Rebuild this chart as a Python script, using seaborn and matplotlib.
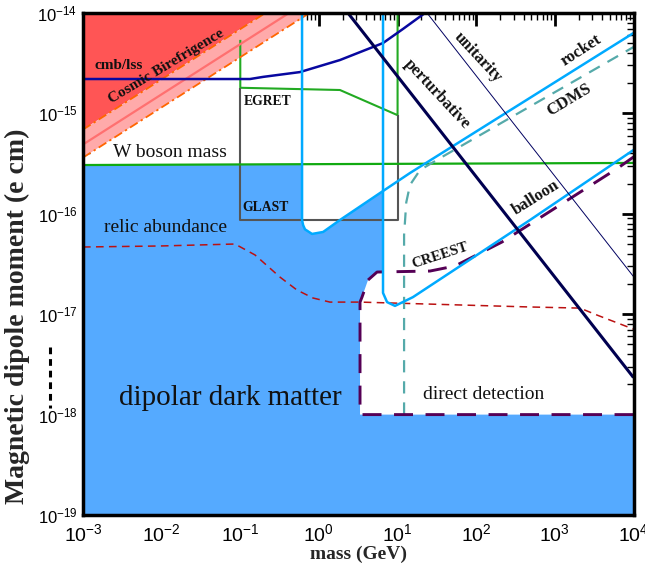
import numpy as np
import pandas as pd
import seaborn as sns
import matplotlib
matplotlib.use("Agg")
import matplotlib.pyplot as plt
from matplotlib.ticker import LogLocator, LogFormatterSciNotation, NullFormatter
from matplotlib.lines import Line2D

# ---------------- data (mass in GeV, dipole moment in e cm) ----------------
cmb_upper_m = [1e-3, 0.209]
cmb_upper_d = [6.9e-16, 1e-14]
cmb_center_m = [1e-3, 0.417]
cmb_center_d = [4.9e-16, 1e-14]
cmb_lower_m = [1e-3, 0.759]
cmb_lower_d = [3.63e-16, 1e-14]

navy_m = [1e-3, 0.133, 0.195, 0.574, 1.85, 6.53, 11.7, 22.3]
navy_d = [2.20e-15, 2.20e-15, 2.31e-15, 2.58e-15, 3.40e-15, 5.02e-15, 6.93e-15, 1e-14]

egret_m = [0.1, 0.1, 1.85, 10, 10]
egret_d = [5.4e-15, 1.8e-15, 1.71e-15, 9.6e-16, 1e-14]

glast_m = [0.1, 0.1, 10, 10]
glast_d = [1.8e-15, 8.67e-17, 8.67e-17, 9.6e-16]

wboson_m = [1e-3, 1e4]
wboson_d = [3.06e-16, 3.21e-16]

rocket_m = [0.610, 0.610, 0.630, 0.665, 0.817, 1.13, 1.85, 5.98, 14.4, 1e4]
rocket_d = [1e-14, 8.67e-17, 7.7e-17, 7.0e-17, 6.30e-17, 6.59e-17, 8.67e-17, 1.61e-16, 2.55e-16, 6.32e-15]

balloon_m = [6.53, 6.53, 7.35, 9.27, 15.7, 483, 1e4]
balloon_d = [1e-14, 1.63e-17, 1.32e-17, 1.21e-17, 1.48e-17, 8.67e-17, 4.32e-16]

cdms_m = [12.1, 12.1, 12.9, 14.4, 19.3, 36.7, 1e4]
cdms_d = [1e-18, 6.15e-17, 1.3e-16, 1.94e-16, 2.73e-16, 3.68e-16, 4.58e-15]

creest_m = [1e4, 3.33, 3.33, 3.53, 4.21, 5.48, 25.8, 53.7, 213, 6350, 1e4]
creest_d = [1e-18, 1e-18, 1.32e-17, 1.48e-17, 2.19e-17, 2.63e-17, 2.69e-17, 3.02e-17, 5.24e-17, 2.86e-16, 3.68e-16]

relic_m = [1e-3, 0.0096, 0.0857, 0.154, 0.320, 0.526, 0.841, 1.38, 3.33, 483, 2090, 3440, 1e4]
relic_d = [4.67e-17, 4.78e-17, 5.0e-17, 3.89e-17, 2.34e-17, 1.74e-17, 1.45e-17, 1.32e-17,
           1.32e-17, 1.18e-17, 1.15e-17, 9.8e-18, 7.1e-18]

perturbative_m = [2.34, 1e4]
perturbative_d = [1e-14, 2.34e-18]
unitarity_m = [23.7, 1e4]
unitarity_d = [1e-14, 2.37e-17]

ddm_m = [1e-3, 1e4, 1e4, 3.33, 3.33, 3.53, 4.21, 5.48, 6.53, 6.53, 5.98, 1.85, 1.13,
         0.817, 0.665, 0.630, 0.610, 0.610, 1e-3]
ddm_d = [1e-19, 1e-19, 1e-18, 1e-18, 1.32e-17, 1.48e-17, 2.19e-17, 2.63e-17, 2.63e-17,
         1.69e-16, 1.61e-16, 8.67e-17, 6.59e-17, 6.30e-17, 7.0e-17, 7.7e-17, 8.67e-17,
         3.06e-16, 3.06e-16]

x_ticks = [1e-3, 1e-2, 1e-1, 1e0, 1e1, 1e2, 1e3, 1e4]
y_ticks = [1e-19, 1e-18, 1e-17, 1e-16, 1e-15, 1e-14]

# ---------------- figure ----------------
sns.set_style("ticks")
plt.rcParams["font.family"] = ["Liberation Serif", "DejaVu Serif"]
plt.rcParams["mathtext.fontset"] = "custom"
plt.rcParams["mathtext.rm"] = "Liberation Sans"

fig = plt.figure(figsize=(6.45, 5.73), dpi=100)
ax = fig.add_axes([83 / 645, 58 / 573, 550.5 / 645, 502 / 573])
ax.set_xscale("log")
ax.set_yscale("log")

# filled regions
ax.fill(ddm_m, ddm_d, color="#55aaff", lw=0, zorder=1)
ax.fill([cmb_upper_m[0], cmb_upper_m[0], cmb_upper_m[1]],
        [1e-14, cmb_upper_d[0], cmb_upper_d[1]], color="#ff5555", lw=0, zorder=1)
ax.fill([cmb_upper_m[0], cmb_upper_m[1], cmb_lower_m[1], cmb_lower_m[0]],
        [cmb_upper_d[0], cmb_upper_d[1], cmb_lower_d[1], cmb_lower_d[0]],
        color="#ffaaaa", lw=0, zorder=1)


def line(xs, ys, color, lw, ls="-", z=3):
    df = pd.DataFrame({"m": xs, "d": ys})
    sns.lineplot(data=df, x="m", y="d", ax=ax, color=color, linewidth=lw,
                 sort=False, estimator=None, zorder=z)
    ln = ax.lines[-1]
    ln.set_linestyle(ls)
    ln.set_solid_capstyle("butt")
    ln.set_dash_capstyle("butt")
    return ln


line(egret_m, egret_d, "#22aa22", 1.5, z=2)
line(glast_m, glast_d, "#555555", 1.5, z=2)
line(cmb_center_m, cmb_center_d, "#ff7070", 1.6)
line(cmb_upper_m, cmb_upper_d, "#ff6600", 1.3, ls=(0, (5, 2, 1.3, 2)))
line(cmb_lower_m, cmb_lower_d, "#ff6600", 1.3, ls=(0, (5, 2, 1.3, 2)))
line(navy_m, navy_d, "#0808a0", 1.8)
line(wboson_m, wboson_d, "#11aa11", 1.6)
line(relic_m, relic_d, "#bb1111", 1.1, ls=(0, (5, 3.5)))
line(cdms_m, cdms_d, "#55aaaa", 1.6, ls=(0, (5.5, 4)))
line(creest_m, creest_d, "#550055", 2.1, ls=(0, (6.5, 4.3)))
line(rocket_m, rocket_d, "#00aaff", 1.8, z=4)
line(balloon_m, balloon_d, "#00aaff", 1.8, z=4)
line(perturbative_m, perturbative_d, "#000050", 2.2, z=4)
line(unitarity_m, unitarity_d, "#000060", 0.7, z=4)

ax.set_xlim(1e-3, 1e4)
ax.set_ylim(1e-19, 1e-14)
ax.set_xlabel("mass (GeV)", fontsize=14, fontweight="bold")
ax.set_ylabel("Magnetic dipole moment (e cm)", fontsize=20, fontweight="bold")
ax.xaxis.set_label_coords(0.5, -0.062)
ax.yaxis.set_label_coords(-0.097, 0.396)

ax.xaxis.set_major_locator(LogLocator(base=10, numticks=100))
ax.yaxis.set_major_locator(LogLocator(base=10, numticks=100))
ax.xaxis.set_minor_locator(LogLocator(base=10, subs=np.arange(2, 10), numticks=100))
ax.yaxis.set_minor_locator(LogLocator(base=10, subs=np.arange(2, 10), numticks=100))
ax.xaxis.set_major_formatter(LogFormatterSciNotation())
ax.yaxis.set_major_formatter(LogFormatterSciNotation())
ax.xaxis.set_minor_formatter(NullFormatter())
ax.yaxis.set_minor_formatter(NullFormatter())
ax.set_xticks(x_ticks)
ax.set_yticks(y_ticks)
ax.tick_params(which="both", direction="in", top=True, right=True, colors="black")
ax.tick_params(which="major", length=9, width=2)
ax.tick_params(which="minor", length=5, width=1)
ax.tick_params(axis="x", labelsize=14, pad=6, labelfontfamily="Liberation Sans")
ax.tick_params(axis="y", labelsize=12, pad=4, labelfontfamily="Liberation Sans")
for sp in ax.spines.values():
    sp.set_linewidth(2.5)
    sp.set_color("black")
    sp.set_zorder(10)

# text labels (axes fractions)
T = dict(transform=ax.transAxes, ha="center", va="center", rotation_mode="anchor", zorder=6,
         color="#111111")
ax.text(0.065, 0.896, "cmb/lss", fontsize=11, fontweight="bold", **T)
ax.text(0.151, 0.894, "Cosmic Birefrigence", fontsize=11, fontweight="bold", rotation=31, **T)
ax.text(0.336, 0.823, "EGRET", fontsize=9.8, fontweight="bold", **T)
ax.text(0.158, 0.723, "W boson mass", fontsize=14, **T)
ax.text(0.331, 0.612, "GLAST", fontsize=9.8, fontweight="bold", **T)
ax.text(0.149, 0.572, "relic abundance", fontsize=14, **T)
ax.text(0.267, 0.233, "dipolar dark matter", fontsize=21, **T)
ax.text(0.728, 0.241, "direct detection", fontsize=14, **T)
ax.text(0.649, 0.516, "CREEST", fontsize=10.5, fontweight="bold", rotation=18, **T)
ax.text(0.643, 0.839, "perturbative", fontsize=12, fontweight="bold", rotation=-47, **T)
ax.text(0.718, 0.912, "unitarity", fontsize=12, fontweight="bold", rotation=-47, **T)
ax.text(0.906, 0.926, "rocket", fontsize=12, fontweight="bold", rotation=33, **T)
ax.text(0.883, 0.827, "CDMS", fontsize=12, fontweight="bold", rotation=31, **T)
ax.text(0.823, 0.633, "balloon", fontsize=12, fontweight="bold", rotation=32, **T)

# dashed marker left of the axis
fig.add_artist(Line2D([50 / 645, 50 / 645], [1 - 347 / 573, 1 - 408 / 573],
                      transform=fig.transFigure, color="black", lw=2.2,
                      linestyle=(0, (2.2, 1.6))))

fig.savefig("out.png", dpi=100)
